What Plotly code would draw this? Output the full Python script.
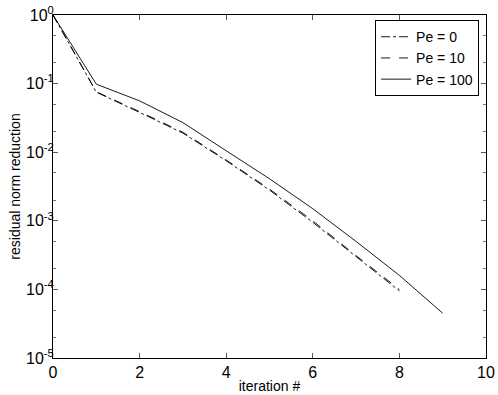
import plotly.graph_objects as go

# Data
iters_short = [0, 1, 2, 3, 4, 5, 6, 7, 8]
iters_long = [0, 1, 2, 3, 4, 5, 6, 7, 8, 9]
pe0 = [1, 0.075, 0.038, 0.019, 0.0075, 0.0028, 0.00095, 3.0e-4, 9.5e-5]
pe10 = [1, 0.076, 0.039, 0.0195, 0.0077, 0.0029, 0.001, 3.1e-4, 1.0e-4]
pe100 = [1, 0.098, 0.056, 0.027, 0.0105, 0.0041, 0.0015, 5.0e-4, 1.6e-4, 4.5e-5]

xtick_vals = [0, 2, 4, 6, 8, 10]
ytick_vals = [1, 1e-1, 1e-2, 1e-3, 1e-4, 1e-5]
ytick_text = ["10<sup>0</sup>", "10<sup>-1</sup>", "10<sup>-2</sup>",
              "10<sup>-3</sup>", "10<sup>-4</sup>", "10<sup>-5</sup>"]

fig = go.Figure()
fig.add_trace(go.Scatter(x=iters_short, y=pe0, mode="lines", name="Pe = 0",
                         line=dict(color="black", width=0.9, dash="dashdot")))
fig.add_trace(go.Scatter(x=iters_short, y=pe10, mode="lines", name="Pe = 10",
                         line=dict(color="black", width=0.9, dash="dash")))
fig.add_trace(go.Scatter(x=iters_long, y=pe100, mode="lines", name="Pe = 100",
                         line=dict(color="black", width=0.9)))

axis_common = dict(showline=True, linecolor="black", linewidth=1, mirror="ticks",
                   ticks="inside", ticklen=5, tickcolor="#555", showgrid=False,
                   zeroline=False, automargin=False, tickfont=dict(size=16, color="black"))

fig.update_xaxes(range=[0, 10], tickvals=xtick_vals,
                 title=dict(text="iteration #", font=dict(size=14, color="black"), standoff=0),
                 **axis_common)
fig.update_yaxes(type="log", range=[-5, 0], tickvals=ytick_vals, ticktext=ytick_text,
                 ticklabelstandoff=-5,
                 minor=dict(ticks="inside", ticklen=3, tickcolor="#777", showgrid=False),
                 title=dict(text="residual norm reduction", font=dict(size=14, color="black"), standoff=2),
                 **axis_common)

fig.update_layout(
    width=498, height=395, autosize=False,
    margin=dict(l=53, r=12, t=15, b=37),
    plot_bgcolor="white", paper_bgcolor="white",
    font=dict(family="Liberation Sans, Arial, sans-serif", size=14, color="black"),
    legend=dict(x=0.984, y=0.985, xanchor="right", yanchor="top", bgcolor="white",
                bordercolor="black", borderwidth=1, font=dict(size=14),
                tracegroupgap=0, itemwidth=30),
    showlegend=True,
)

# page body has a default 8px margin; remove it so the figure sits at the window origin
fig.write_html("out.html", config={"displayModeBar": False},
               post_script="document.body.style.margin='0px';")
